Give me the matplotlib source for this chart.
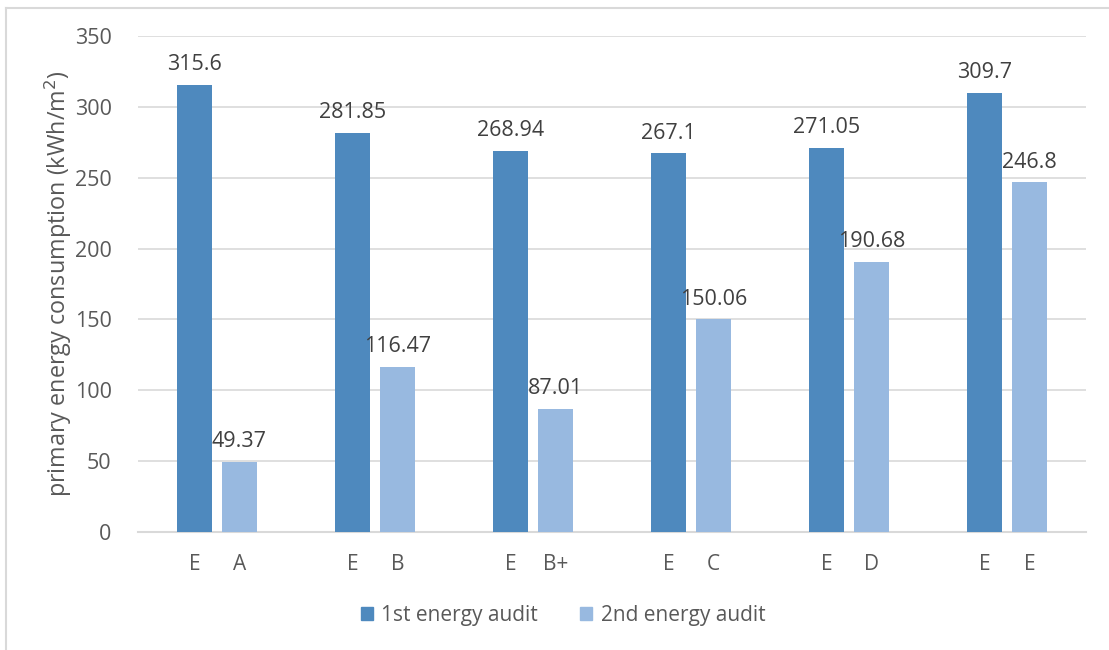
import matplotlib
matplotlib.use("Agg")
import matplotlib.pyplot as plt
import numpy as np
from matplotlib.lines import Line2D

plt.rcParams['font.family'] = ['Open Sans', 'DejaVu Sans']

# Energy audit results per building
first_audit = [315.6, 281.85, 268.94, 267.1, 271.05, 309.7]
second_audit = [49.37, 116.47, 87.01, 150.06, 190.68, 246.8]
first_class = ["E", "E", "E", "E", "E", "E"]
second_class = ["A", "B", "B+", "C", "D", "E"]
series_names = ["1st energy audit", "2nd energy audit"]

dark = "#4E89BE"
light = "#98B9E0"
text_col = "#595959"
label_col = "#404040"
grid_col = "#D9D9D9"
fs = 15

W, H = 1109, 650
fig = plt.figure(figsize=(W / 100, H / 100), dpi=100)

# plot area in pixel coordinates
left, right, top, bottom = 138, 1086, 36, 532
ax = fig.add_axes([left / W, 1 - bottom / H, (right - left) / W, (bottom - top) / H])

n = len(first_audit)
x = np.arange(n)
bw = 0.22
off = 0.142

ax.bar(x - off, first_audit, width=bw, color=dark, label=series_names[0], zorder=3)
ax.bar(x + off, second_audit, width=bw, color=light, label=series_names[1], zorder=3)

for xs, vals in ((x - off, first_audit), (x + off, second_audit)):
    for xi, v in zip(xs, vals):
        ax.annotate(f"{v:g}", (xi, v), xytext=(0, 7), textcoords="offset points",
                    ha="center", va="bottom", fontsize=fs + 0.5, color=label_col)

ax.set_xlim(-0.5, n - 0.5)
ax.set_ylim(0, 350)
ax.set_yticks(np.arange(0, 351, 50))
ax.yaxis.grid(True, color=grid_col, linewidth=1.2, zorder=0)
ax.set_axisbelow(True)

ticks = np.concatenate([x - off, x + off])
tick_labels = first_class + second_class
ax.set_xticks(ticks)
ax.set_xticklabels(tick_labels)
ax.tick_params(axis="x", length=0, pad=16, labelsize=fs, labelcolor=text_col)
ax.tick_params(axis="y", length=0, pad=19, labelsize=fs + 0.5, labelcolor=text_col)

for s in ["top", "right", "left"]:
    ax.spines[s].set_visible(False)
ax.spines["bottom"].set_color(grid_col)
ax.spines["bottom"].set_linewidth(1.5)

fig.text(58 / W, 1 - 284 / H, "primary energy consumption (kWh/m$^2$)", fontsize=16.8,
         color=text_col, rotation=90, ha="center", va="center")

handles = [plt.Rectangle((0, 0), 1, 1, color=dark), plt.Rectangle((0, 0), 1, 1, color=light)]
fig.legend(handles, series_names, loc="center", bbox_to_anchor=(563 / W, 1 - 615 / H),
           ncol=2, frameon=False, fontsize=fs, labelcolor=text_col,
           handlelength=0.6, handleheight=0.6, handletextpad=0.4, columnspacing=2.0)

# outer frame
fig.add_artist(Line2D([6 / W, 6 / W], [0, 1 - 8 / H], transform=fig.transFigure,
                      color=grid_col, linewidth=1.5))
fig.add_artist(Line2D([6 / W, 1], [1 - 8 / H, 1 - 8 / H], transform=fig.transFigure,
                      color=grid_col, linewidth=1.5))

fig.savefig("out.png", dpi=100)
